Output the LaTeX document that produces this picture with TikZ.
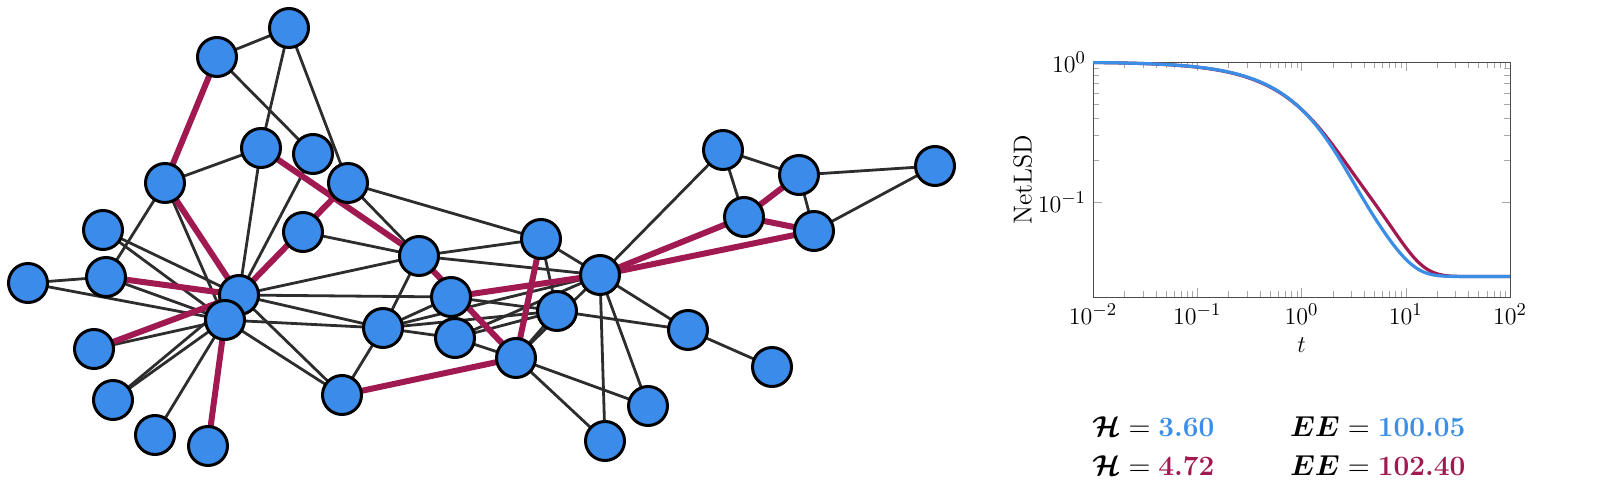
\documentclass[tikz,border=0pt]{standalone}
\usepackage{amsmath}
\usepackage{pgfplots}
\pgfplotsset{compat=1.18}
\usetikzlibrary{backgrounds}
\definecolor{nblue}{RGB}{59,139,235}
\definecolor{cblue}{RGB}{58,142,230}
\definecolor{mar}{RGB}{160,25,80}
\definecolor{edg}{RGB}{45,45,45}
\begin{document}
\begin{tikzpicture}[x=0.5pt,y=-0.5pt,
  v/.style={circle,fill=nblue,draw=black,line width=1.5pt,minimum size=19.5pt,inner sep=0pt},
  e/.style={draw=edg,line width=1.4pt},
  r/.style={draw=mar,line width=3pt}]
\useasboundingbox (0,0) rectangle (1600,491);
\foreach \n/\x/\y in {A/289/28,B/217/57,C/165/183,D/261/148,E/313/154,F/348/183,G/303/232,H/103/230,I/106/277,J/28/283,K/239/295,L/225/320,M/94/349,N/113/400,O/155/435,P/208/446,Q/419/256,R/451/297,S/383/328,T/455/338,U/342/395,V/541/239,W/600/275,X/557/311,Z/516/358,AA/723/150,AB/799/175,AC/935/166,AD/744/217,AE/814/231,AF/688/330,AG/772/367,AH/648/406,AI/605/441}
  {\node[v] (\n) at (\x,\y) {};}
\begin{scope}[on background layer]
\foreach \a/\b in {A/B,A/D,A/F,B/E,C/D,C/L,C/I,D/K,E/K,F/Q,F/V,G/Q,H/K,H/L,I/J,J/L,I/L,K/L,K/Q,K/R,K/S,K/U,L/S,L/U,M/L,N/L,N/K,O/L,S/Q,S/R,S/T,S/U,Q/V,Q/W,V/W,V/X,S/W,T/W,T/X,S/X,Z/W,Z/X,Z/AH,Z/AI,W/AI,W/AH,W/AF,X/AF,AF/AG,W/AA,W/AD,AA/AB,AA/AD,AB/AC,AB/AE,AE/AC,T/Z,R/X}
  {\draw[e] (\a.center) -- (\b.center);}
\foreach \a/\b in {B/C,C/K,D/Q,F/K,I/K,M/K,P/L,U/Z,Q/Z,R/W,V/Z,W/AD,W/AE,AB/AD,AD/AE}
  {\draw[r] (\a.center) -- (\b.center);}
\end{scope}
\begin{scope}[x=1cm,y=1cm]
\begin{axis}[overlay,at={(546.5pt,-148.5pt)},anchor=south west,width=208.5pt,height=117.5pt,scale only axis,
  xmode=log,ymode=log,xmin=0.01,xmax=100,ymin=0.021,ymax=1,
  xtick={0.01,0.1,1,10,100},ytick={0.1,1},
  ticklabel style={font=\fontsize{13}{15}\selectfont},
  label style={font=\fontsize{13}{15}\selectfont},
  xlabel={$t$},ylabel={NetLSD},
  tick style={gray!70},axis line style={black!70},
  ylabel style={yshift=-4pt}]
\addplot[mar,line width=1.6pt,domain=0.01:100,samples=200] {1/34+(33/34)*(0.75*exp(-min(1.1*x,60))+0.25*exp(-0.26*x))};
\addplot[cblue,line width=1.6pt,domain=0.01:100,samples=200] {1/34+(33/34)*(0.8*exp(-min(x,60))+0.2*exp(-0.3*x))};
\end{axis}
\end{scope}
\node[font=\fontsize{14}{16}\selectfont,anchor=west] (h1) at (1085,427) {$\boldsymbol{\mathcal{H}} = \textbf{\textcolor{cblue}{3.60}}$};
\node[font=\fontsize{14}{16}\selectfont,anchor=west] (h2) at (1085,466) {$\boldsymbol{\mathcal{H}} = \textbf{\textcolor{mar}{4.72}}$};
\node[font=\fontsize{14}{16}\selectfont,anchor=west] (e1) at (1283,427) {$\boldsymbol{EE} = \textbf{\textcolor{cblue}{100.05}}$};
\node[font=\fontsize{14}{16}\selectfont,anchor=west] (e2) at (1283,466) {$\boldsymbol{EE} = \textbf{\textcolor{mar}{102.40}}$};
\end{tikzpicture}
\end{document}
